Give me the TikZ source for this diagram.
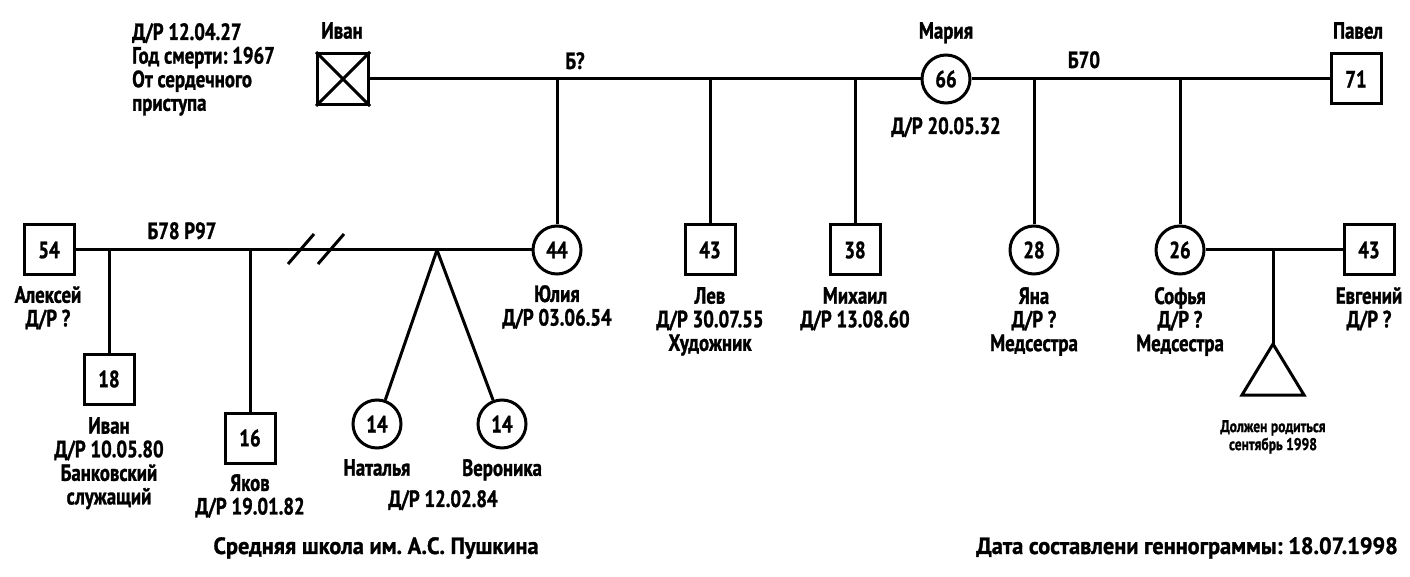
\documentclass[tikz,border=0pt]{standalone}
\usepackage{fontspec}
\setmainfont{PT Sans}[FakeStretch=0.8, BoldFeatures={FakeStretch=0.8, FakeBold=1.2}]
\newfontfamily\footfamily{PT Sans}[FakeStretch=0.95, BoldFeatures={FakeStretch=0.95, FakeBold=1.2}]
\frenchspacing
\newcommand{\lblfont}{\fontsize{23.5pt}{23.6pt}\selectfont\bfseries}
\newcommand{\smallfont}{\fontsize{17pt}{18pt}\selectfont\bfseries}
\newcommand{\footfont}{\footfamily\fontsize{23.5pt}{23.6pt}\selectfont\bfseries}
\begin{document}
\begin{tikzpicture}[x=1pt,y=-1pt,
  person/.style={draw, line width=3pt, inner sep=0pt, font=\lblfont},
  male/.style={person, rectangle, minimum size=50pt},
  female/.style={person, circle, minimum size=48pt},
  lbl/.style={align=center, inner sep=0pt, anchor=north, font=\lblfont},
  rel/.style={line width=3pt}]
\useasboundingbox[fill=white] (0,0) rectangle (1410,577);

% top generation
\node[male, minimum size=51pt] (ivan) at (343,79) {};
\draw[rel] (ivan.north west) -- (ivan.south east);
\draw[rel] (ivan.north east) -- (ivan.south west);
\node[female] (maria) at (946,79) {66};
\node[male] (pavel) at (1356,79) {71};

\node[lbl] (ivanN) at (342,22) {Иван};
\node[lbl, anchor=north west, align=left] (ivaninfo) at (132,23) {Д/Р 12.04.27\\Год смерти: 1967\\От сердечного\\приступа};
\node[lbl] (mariaN) at (946,22) {Мария};
\node[lbl] (mariaDR) at (946,117) {Д/Р 20.05.32};
\node[lbl] (pavelN) at (1358,22) {Павел};
\node[lbl] (m1) at (575,52) {Б?};
\node[lbl] (m2) at (1084,51) {Б70};

\draw[rel] (ivan.east) -- (maria.west);
\draw[rel] (maria.east) -- (pavel.west);

% second generation
\node[male] (alexei) at (49,250) {54};
\node[female] (yulia) at (557,250) {44};
\node[male] (lev) at (710,250) {43};
\node[male] (mikhail) at (855,250) {38};
\node[female] (yana) at (1034,250) {28};
\node[female] (sofya) at (1180,250) {26};
\node[male] (evgeniy) at (1369,250) {43};

\foreach \c in {yulia,lev,mikhail,yana,sofya}
  \draw[rel] (\c.north) -- (\c.north |- ivan.east);

\node[lbl] (alexeiL) at (48,286) {Алексей\\Д/Р ?};
\node[lbl] (yuliaL) at (557,285) {Юлия\\Д/Р 03.06.54};
\node[lbl] (levL) at (710,287) {Лев\\Д/Р 30.07.55\\Художник};
\node[lbl] (mikhailL) at (855,287) {Михаил\\Д/Р 13.08.60};
\node[lbl] (yanaL) at (1034,287) {Яна\\Д/Р ?\\Медсестра};
\node[lbl] (sofyaL) at (1180,287) {Софья\\Д/Р ?\\Медсестра};
\node[lbl] (evgeniyL) at (1369,287) {Евгений\\Д/Р ?};
\node[lbl] (m3) at (182,222) {Б78 Р97};

\draw[rel] (alexei.east) -- (yulia.west);
\draw[rel] (sofya.east) -- (evgeniy.west);

% divorce marks
\coordinate (s1a) at (288,264);
\coordinate (s1b) at (314,234);
\coordinate (s2a) at (318,264);
\coordinate (s2b) at (344,234);
\draw[rel] (s1a) -- (s1b);
\draw[rel] (s2a) -- (s2b);

% third generation
\node[male] (ivanjr) at (109,379) {18};
\node[male] (yakov) at (250,438) {16};
\node[female] (natalya) at (377,424) {14};
\node[female] (veronika) at (502,424) {14};
\coordinate (twin) at (437,250);

\draw[rel] (ivanjr.north) -- (ivanjr.north |- alexei.east);
\draw[rel] (yakov.north) -- (yakov.north |- alexei.east);
\draw[rel] (twin) -- (natalya);
\draw[rel] (twin) -- (veronika);

\node[lbl] (ivanjrL) at (109,417) {Иван\\Д/Р 10.05.80\\Банковский\\служащий};
\node[lbl] (yakovL) at (250,474) {Яков\\Д/Р 19.01.82};
\node[lbl] (natalyaL) at (377,459) {Наталья};
\node[lbl] (veronikaL) at (502,459) {Вероника};
\node[lbl] (twinsDR) at (443,490) {Д/Р 12.02.84};

% pregnancy
\coordinate (preg) at (1273,344);
\draw[rel] (preg) -- (preg |- sofya.east);
\draw[rel, line join=miter] (preg) -- ++(31,51) -- ++(-62,0) -- cycle;
\node[lbl, font=\smallfont] (pregL) at (1273,420) {Должен родиться\\сентябрь 1998};

% footer
\node[lbl, font=\footfont] (school) at (376,537) {Средняя школа им. А.С. Пушкина};
\node[lbl, font=\footfont, anchor=north east] (date) at (1398,537) {Дата составлени геннограммы: 18.07.1998};
\end{tikzpicture}
\end{document}
